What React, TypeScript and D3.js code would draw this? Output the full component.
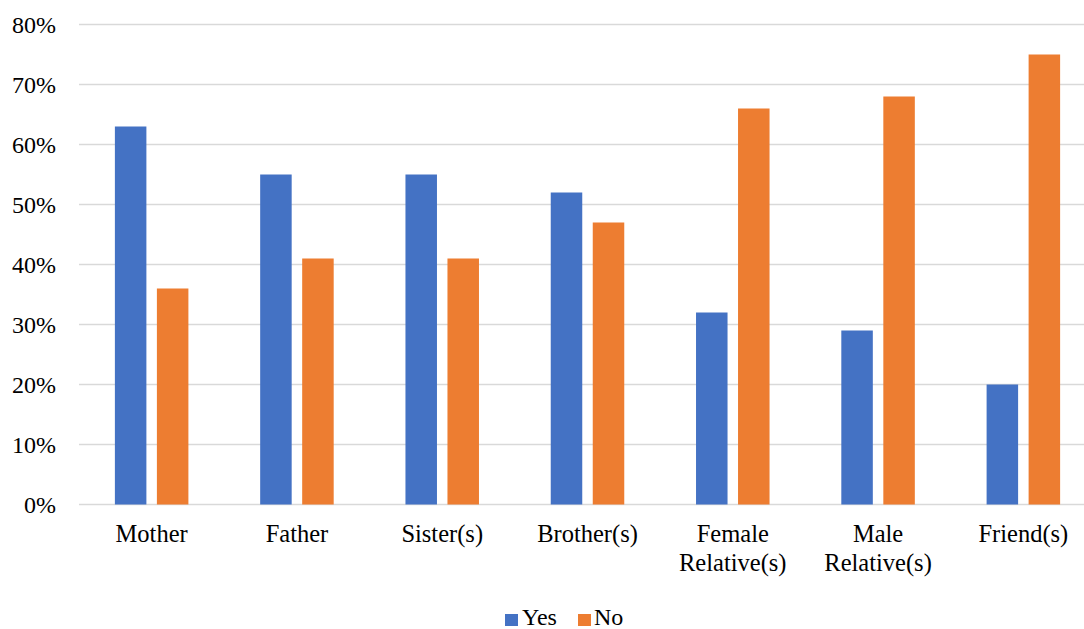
import React from "react";
import * as d3 from "d3";

const categories: string[][] = [
  ["Mother"],
  ["Father"],
  ["Sister(s)"],
  ["Brother(s)"],
  ["Female", "Relative(s)"],
  ["Male", "Relative(s)"],
  ["Friend(s)"],
];
const seriesNames = ["Yes", "No"];
const yesValues = [0.63, 0.55, 0.55, 0.52, 0.32, 0.29, 0.2];
const noValues = [0.36, 0.41, 0.41, 0.47, 0.66, 0.68, 0.75];
const yTicks = [0, 0.1, 0.2, 0.3, 0.4, 0.5, 0.6, 0.7, 0.8];
const colors = ["#4472C4", "#ED7D31"];

const W = 1084;
const H = 629;
const FONT = '"Liberation Serif"';

export default function App() {
  const keys = categories.map((c) => c.join(" "));
  const x = d3
    .scaleBand<string>()
    .domain(keys)
    .range([79, 1096])
    .paddingInner(0.494)
    .paddingOuter(0.247);
  const xs = d3
    .scaleBand<string>()
    .domain(seriesNames)
    .range([0, x.bandwidth()])
    .paddingInner(0.25);
  const y = d3.scaleLinear().domain([0, 0.8]).range([504.5, 24.5]);
  const series = [yesValues, noValues];
  const fmt = d3.format(".0%");
  const textStyle = { fontFamily: FONT };

  return (
    <svg
      width={W}
      height={H}
      style={{ position: "absolute", left: 0, top: 0, background: "#fff" }}
    >
      {yTicks.map((t) => (
        <g key={t}>
          <line x1={79} x2={W} y1={y(t)} y2={y(t)} stroke="#d9d9d9" strokeWidth={1.5} />
          <text x={56} y={y(t)} dy="0.35em" textAnchor="end" fontSize={24} fill="#000" style={textStyle}>
            {fmt(t)}
          </text>
        </g>
      ))}
      {series.map((vals, si) =>
        vals.map((v, i) => (
          <rect
            key={`${si}-${i}`}
            x={(x(keys[i]) as number) + (xs(seriesNames[si]) as number)}
            y={y(v)}
            width={xs.bandwidth()}
            height={y(0) - y(v)}
            fill={colors[si]}
          />
        ))
      )}
      {categories.map((lines, i) => (
        <text
          key={keys[i]}
          x={(x(keys[i]) as number) + x.bandwidth() / 2}
          y={542}
          textAnchor="middle"
          fontSize={24.5}
          fill="#000"
          style={textStyle}
        >
          {lines.map((l, li) => (
            <tspan key={li} x={(x(keys[i]) as number) + x.bandwidth() / 2} dy={li === 0 ? 0 : 28.5}>
              {l}
            </tspan>
          ))}
        </text>
      ))}
      <g>
        <rect x={505} y={614} width={13} height={12} fill={colors[0]} />
        <text x={522} y={625} fontSize={24} fill="#000" style={textStyle}>
          {seriesNames[0]}
        </text>
        <rect x={578} y={614} width={13} height={12} fill={colors[1]} />
        <text x={594} y={625} fontSize={24} fill="#000" style={textStyle}>
          {seriesNames[1]}
        </text>
      </g>
    </svg>
  );
}
